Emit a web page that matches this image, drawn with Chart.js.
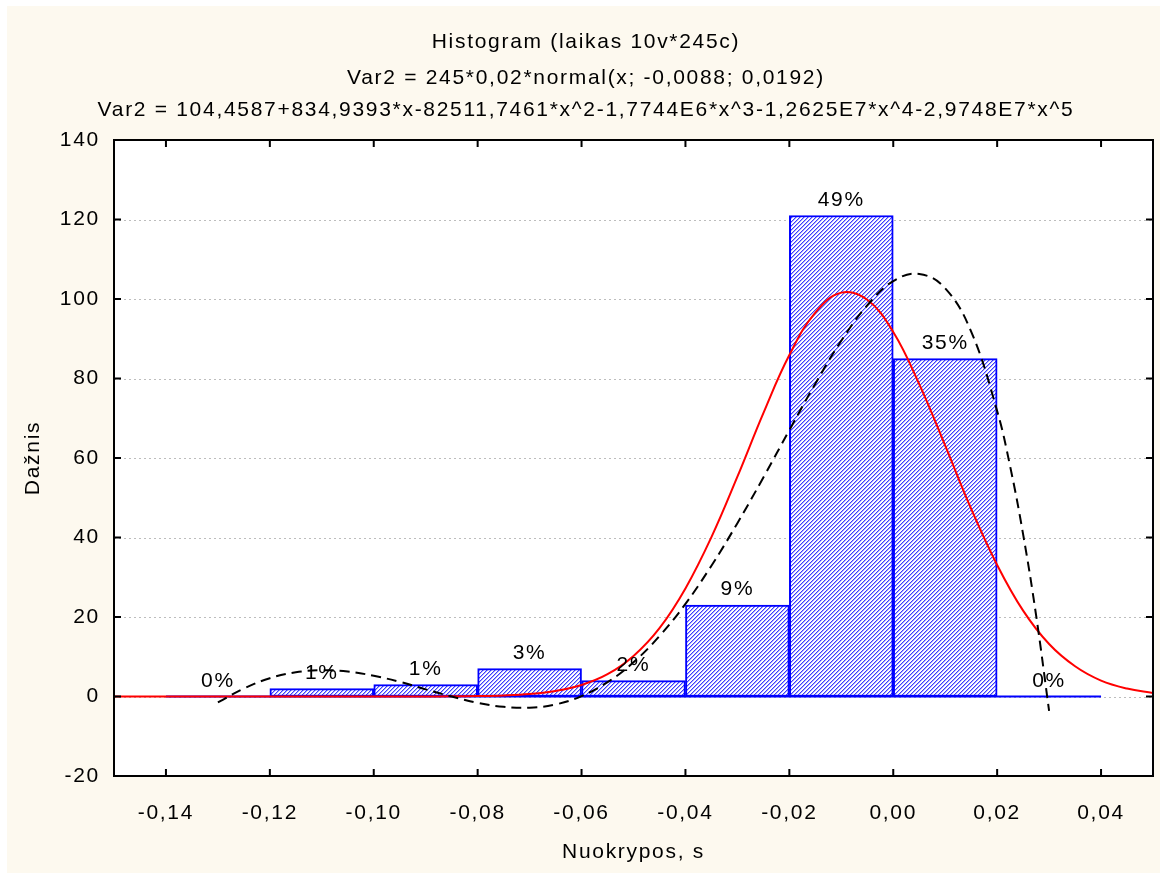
<!DOCTYPE html>
<html>
<head>
<meta charset="utf-8">
<script src="https://cdn.jsdelivr.net/npm/chart.js@4"></script>
<style>
  html, body { margin: 0; padding: 0; background: #ffffff; }
  #wrap { position: absolute; left: 7px; top: 6px; }
</style>
</head>
<body>
<div id="wrap"><canvas id="hist" width="1153" height="867"></canvas></div>
<script>
// histogram bins (centres) and counts
var binCenters = [-0.13, -0.11, -0.09, -0.07, -0.05, -0.03, -0.01, 0.01, 0.03];
var counts = [0, 2, 3, 7, 4, 23, 121, 85, 0];
var pctLabels = ['0%', '1%', '1%', '3%', '2%', '9%', '49%', '35%', '0%'];
var binEdges = [-0.14, 0.04];

// fitted normal curve
var normX = [-0.15, -0.145, -0.14, -0.135, -0.13, -0.125, -0.12, -0.115, -0.11, -0.105,
    -0.1, -0.095, -0.09, -0.085, -0.08, -0.075, -0.07, -0.065, -0.06, -0.055,
    -0.05, -0.045, -0.04, -0.035, -0.03, -0.025, -0.02, -0.015, -0.01, -0.005,
    0, 0.005, 0.01, 0.015, 0.02, 0.025, 0.03, 0.035, 0.04, 0.045, 0.05];
var normY = [0, 0, 0, 0, 0, 0, 0, 0, 0, 0,
    0, 0, 0.01, 0.04, 0.11, 0.27, 0.63, 1.4, 2.9, 5.6,
    10.2, 17.2, 27.2, 40.1, 55.3, 71.3, 85.9, 96.6, 101.6, 99.8,
    91.7, 78.6, 63.1, 47.2, 33.1, 21.6, 13.2, 7.6, 4.0, 2.0, 0.9];

// polynomial fit (dashed)
var polyX = [-0.13, -0.125, -0.12, -0.115, -0.11, -0.105, -0.1, -0.095, -0.09, -0.085,
    -0.08, -0.075, -0.07, -0.065, -0.06, -0.055, -0.05, -0.045, -0.04, -0.035,
    -0.03, -0.025, -0.02, -0.015, -0.01, -0.005, 0, 0.005, 0.01, 0.015,
    0.02, 0.0225, 0.025, 0.0275, 0.03];
var polyY = [-1.5, 2.0, 4.6, 6.1, 6.6, 6.3, 5.2, 3.7, 1.8, 0.0,
    -1.6, -2.6, -2.8, -2.0, 0.1, 3.6, 8.6, 15.2, 23.3, 32.9,
    43.6, 55.1, 67.0, 78.7, 89.5, 98.4, 104.5, 106.3, 102.7, 91.8,
    71.8, 57.9, 40.8, 20.4, -3.6];

var xTicks = [-0.14, -0.12, -0.10, -0.08, -0.06, -0.04, -0.02, 0.00, 0.02, 0.04];
var xTickLabels = ['-0,14', '-0,12', '-0,10', '-0,08', '-0,06', '-0,04', '-0,02', '0,00', '0,02', '0,04'];
var yTicks = [-20, 0, 20, 40, 60, 80, 100, 120, 140];

var titleLines = [
    'Histogram (laikas 10v*245c)',
    'Var2 = 245*0,02*normal(x; -0,0088; 0,0192)',
    'Var2 = 104,4587+834,9393*x-82511,7461*x^2-1,7744E6*x^3-1,2625E7*x^4-2,9748E7*x^5'
];

var FONT = '"Liberation Sans", Arial, Helvetica, sans-serif';
var FSIZE = 21;
var SPACING = '1.7px';
Chart.defaults.font.family = FONT;
Chart.defaults.font.size = FSIZE;
Chart.defaults.color = '#000';

function zip(xs, ys) {
    var out = [];
    for (var i = 0; i < xs.length; i++) out.push({x: xs[i], y: ys[i]});
    return out;
}

// hatch fill for bars
function hatch() {
    var c = document.createElement('canvas');
    c.width = 4; c.height = 4;
    var g = c.getContext('2d');
    g.fillStyle = '#ffffff';
    g.fillRect(0, 0, 4, 4);
    for (var i = 0; i < 4; i++) {
        g.fillStyle = '#3c3cff';
        g.fillRect(i, 3 - i, 1, 1);
        g.fillStyle = '#aaaaff';
        g.fillRect((i + 1) % 4, 3 - i, 1, 1);
    }
    return g.createPattern(c, 'repeat');
}

var decor = {
    id: 'decor',
    beforeDraw: function(chart) {
        var ctx = chart.ctx, a = chart.chartArea;
        ctx.letterSpacing = SPACING;
        ctx.save();
        ctx.fillStyle = '#fdf9ef';
        ctx.fillRect(0, 0, chart.width, chart.height);
        ctx.fillStyle = '#ffffff';
        ctx.fillRect(a.left, a.top, a.right - a.left, a.bottom - a.top);
        ctx.restore();
    },
    beforeDatasetsDraw: function(chart) {
        var ctx = chart.ctx, a = chart.chartArea, ys = chart.scales.y;
        ctx.save();
        ctx.strokeStyle = '#bdbdbd';
        ctx.lineWidth = 1;
        ctx.setLineDash([2, 3]);
        yTicks.forEach(function(v) {
            if (v === yTicks[0] || v === yTicks[yTicks.length - 1]) return;
            var py = Math.round(ys.getPixelForValue(v)) + 0.5;
            ctx.beginPath();
            ctx.moveTo(a.left, py);
            ctx.lineTo(a.right, py);
            ctx.stroke();
        });
        ctx.restore();
    },
    afterDatasetsDraw: function(chart) {
        var ctx = chart.ctx, a = chart.chartArea;
        var xs = chart.scales.x, ys = chart.scales.y;
        ctx.save();
        ctx.letterSpacing = SPACING;
        // percentage labels above bars
        ctx.font = FSIZE + 'px ' + FONT;
        ctx.fillStyle = '#000';
        ctx.textAlign = 'center';
        ctx.textBaseline = 'bottom';
        var bars = chart.getDatasetMeta(0).data;
        bars.forEach(function(b, i) {
            ctx.fillText(pctLabels[i], b.x, b.y - 5);
        });
        // frame
        ctx.strokeStyle = '#000';
        ctx.lineWidth = 2;
        ctx.strokeRect(a.left, a.top, a.right - a.left, a.bottom - a.top);
        // inward ticks
        var tl = 7;
        ctx.beginPath();
        yTicks.forEach(function(v) {
            var py = ys.getPixelForValue(v);
            ctx.moveTo(a.left, py); ctx.lineTo(a.left + tl, py);
            ctx.moveTo(a.right, py); ctx.lineTo(a.right - tl, py);
        });
        xTicks.forEach(function(v) {
            var px = xs.getPixelForValue(v);
            ctx.moveTo(px, a.bottom); ctx.lineTo(px, a.bottom - tl);
            ctx.moveTo(px, a.top); ctx.lineTo(px, a.top + tl);
        });
        ctx.stroke();
        // titles
        ctx.textBaseline = 'middle';
        ctx.fillText(titleLines[0], 579, 36);
        ctx.fillText(titleLines[1], 579, 72);
        ctx.fillText(titleLines[2], 579, 104);
        // axis titles
        ctx.fillText('Nuokrypos, s', (a.left + a.right) / 2, 846);
        ctx.translate(26, (a.top + a.bottom) / 2);
        ctx.rotate(-Math.PI / 2);
        ctx.fillText('Dažnis', 0, 0);
        ctx.restore();
    }
};

var ctx = document.getElementById('hist');
var chart = new Chart(ctx, {
    type: 'bar',
    data: {
        datasets: [{
            type: 'bar',
            data: zip(binCenters, counts),
            backgroundColor: hatch(),
            borderColor: '#0000ff',
            borderWidth: 2,
            borderSkipped: false,
            barPercentage: 1,
            categoryPercentage: 1,
            order: 4
        }, {
            type: 'line',
            data: zip(binEdges, [0, 0]),
            borderColor: '#0000ff',
            borderWidth: 2,
            pointRadius: 0,
            order: 3
        }, {
            type: 'line',
            data: zip(normX, normY),
            borderColor: '#ff0000',
            borderWidth: 2,
            pointRadius: 0,
            tension: 0.4,
            order: 2
        }, {
            type: 'line',
            data: zip(polyX, polyY),
            borderColor: '#000000',
            borderWidth: 2,
            borderDash: [10, 6],
            pointRadius: 0,
            tension: 0.4,
            order: 1
        }]
    },
    options: {
        responsive: false,
        animation: false,
        devicePixelRatio: 1,
        layout: { padding: { left: 0, right: 7, top: 134, bottom: 0 } },
        plugins: { legend: { display: false }, tooltip: { enabled: false } },
        scales: {
            x: {
                type: 'linear',
                min: -0.15,
                max: 0.05,
                offset: false,
                grid: { display: false },
                border: { display: false },
                afterBuildTicks: function(s) { s.ticks = xTicks.map(function(v) { return {value: v}; }); },
                afterFit: function(s) { s.height = 97; },
                ticks: {
                    autoSkip: false,
                    maxRotation: 0,
                    padding: 17,
                    callback: function(v, i) { return xTickLabels[i]; }
                }
            },
            y: {
                min: -20,
                max: 140,
                grid: { display: false },
                border: { display: false },
                afterBuildTicks: function(s) { s.ticks = yTicks.map(function(v) { return {value: v}; }); },
                afterFit: function(s) { s.width = 107; },
                ticks: { padding: 6 }
            }
        }
    },
    plugins: [decor]
});
</script>
</body>
</html>
